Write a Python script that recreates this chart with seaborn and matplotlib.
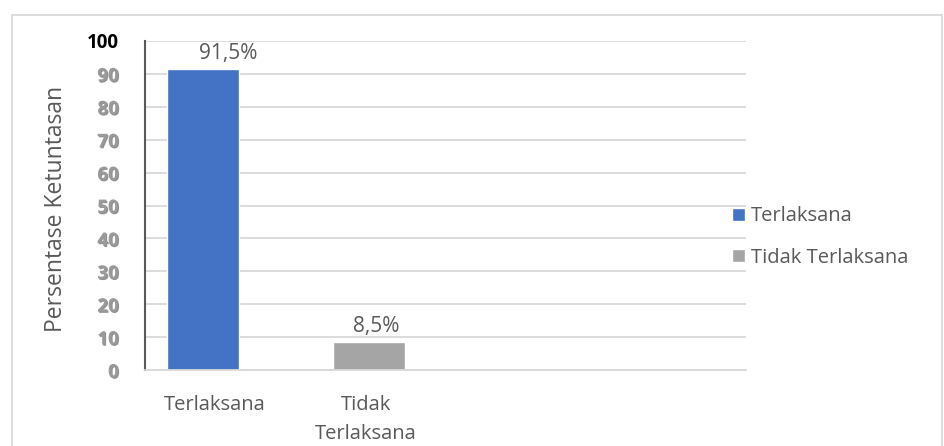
import matplotlib
matplotlib.use("Agg")
import matplotlib.pyplot as plt
import matplotlib.patheffects as pe
import matplotlib.transforms as mtransforms
from matplotlib.patches import Rectangle
import seaborn as sns
import pandas as pd

# Data
categories = ["Terlaksana", "Tidak Terlaksana"]
xtick_labels = ["Terlaksana", "Tidak\nTerlaksana"]
values = [91.5, 8.5]
yticks = [0, 10, 20, 30, 40, 50, 60, 70, 80, 90, 100]
colors = ["#4472C4", "#A5A5A5"]

# Horizontal nudges (pixels) for category and value labels
xlabel_shift_px = [12, -3]
value_label_shift_px = [25, 7]

sns.set_theme(style="white")
plt.rcParams["font.family"] = ["Open Sans", "DejaVu Sans"]

TEXT = "#595959"
GRID = "#D9D9D9"

fig = plt.figure(figsize=(9.45, 4.46), dpi=100)
ax = fig.add_axes([145 / 945, 1 - 370 / 446, 601 / 945, 329 / 446])

df = pd.DataFrame({"Kategori": categories, "Persen": values})
sns.barplot(data=df, x="Kategori", y="Persen", hue="Kategori",
            palette=colors, width=0.434, dodge=False, legend=True, ax=ax,
            saturation=1)

ax.set_xlim(-0.35, 3.27)
ax.set_ylim(0, 100)
ax.set_yticks(yticks)
ax.grid(axis="y", color=GRID, linewidth=1.3)
ax.set_axisbelow(True)

for s in ["top", "right"]:
    ax.spines[s].set_visible(False)
ax.spines["left"].set_color("#595959")
ax.spines["left"].set_linewidth(1.5)
ax.spines["bottom"].set_color(GRID)
ax.spines["bottom"].set_linewidth(1.3)

ax.tick_params(axis="both", length=0)
ax.tick_params(axis="y", pad=19)
ax.tick_params(axis="x", pad=18)

ax.set_xticks(range(len(categories)))
ax.set_xticklabels(xtick_labels, fontsize=14.5, color=TEXT, linespacing=1.6)
for lab, dx in zip(ax.get_xticklabels(), xlabel_shift_px):
    lab.set_transform(lab.get_transform() +
                      mtransforms.ScaledTranslation(dx / 100, 0, fig.dpi_scale_trans))

shadow = [pe.withSimplePatchShadow(offset=(0.8, -0.8), shadow_rgbFace="#222222", alpha=0.5)]
ax.set_yticklabels([str(t) for t in yticks])
for lab, t in zip(ax.get_yticklabels(), yticks):
    lab.set_fontweight("bold")
    lab.set_fontsize(13.5)
    if t == 100:
        lab.set_color("black")
    else:
        lab.set_color("#9a9a9a")
        lab.set_path_effects(shadow)

ax.set_xlabel("")
ax.set_ylabel("Persentase Ketuntasan", fontsize=16.5, color=TEXT)
ax.yaxis.set_label_coords((68 - 145) / 601, 0.49)

# Value labels above each bar
for cont, v, dx in zip(ax.containers, values, value_label_shift_px):
    bar = cont.patches[0]
    ax.annotate(f"{v:.1f}".replace(".", ",") + "%",
                xy=(bar.get_x() + bar.get_width() / 2, bar.get_height()),
                xytext=(dx * 0.72, 3.5), textcoords="offset points",
                ha="center", va="bottom", fontsize=15, color=TEXT)

leg = ax.legend(loc="center left", bbox_to_anchor=(732 / 945, 1 - 237 / 446),
                bbox_transform=fig.transFigure, frameon=False, fontsize=14.5,
                handlelength=0.65, handleheight=0.65, handletextpad=0.3,
                labelspacing=1.05, borderaxespad=0, borderpad=0)
for txt in leg.get_texts():
    txt.set_color(TEXT)

# Chart frame
fig.patches.append(Rectangle((12 / 945, -0.05), 930 / 945, 1.05 - 15 / 446,
                             transform=fig.transFigure, fill=False,
                             edgecolor=GRID, linewidth=1.3))

fig.savefig("out.png", dpi=100)
